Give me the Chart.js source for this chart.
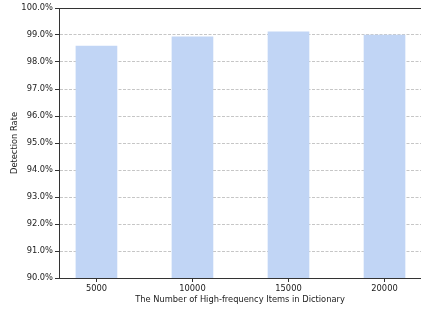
<!DOCTYPE html>
<html>
<head>
<meta charset="utf-8">
<script src="https://cdn.jsdelivr.net/npm/chart.js@4"></script>
<style>
  html, body { margin: 0; padding: 0; background: #fff; }
  #wrap { width: 421px; height: 312px; }
</style>
</head>
<body>
<div id="wrap"><canvas id="rateChart"></canvas></div>
<script>
// dictionary sizes and detection rates (%)
const categories = ['5000', '10000', '15000', '20000'];
const detectionRate = [98.59, 98.93, 99.12, 99.0];
const yTicks = [90, 91, 92, 93, 94, 95, 96, 97, 98, 99, 100];

const axisColor = '#333333';
const gridColor = '#c6c6c6';

Chart.defaults.font.family = 'DejaVu Sans';
Chart.defaults.font.size = 8.3;
Chart.defaults.color = '#222222';

const points = categories.map((c, i) => ({ x: i, y: detectionRate[i] }));

new Chart(document.getElementById('rateChart').getContext('2d'), {
    type: 'bar',
    data: {
        datasets: [{
            data: points,
            backgroundColor: '#c1d5f5',
            borderWidth: 0,
            barThickness: 41,
        }]
    },
    options: {
        responsive: true,
        maintainAspectRatio: false,
        animation: false,
        layout: { padding: { top: 8, right: 0, bottom: 0, left: 0 } },
        plugins: {
            legend: { display: false },
            tooltip: { enabled: false },
        },
        scales: {
            x: {
                type: 'linear',
                offset: false,
                min: -0.39,
                max: 3.38,
                afterBuildTicks: axis => {
                    axis.ticks = categories.map((c, i) => ({ value: i }));
                },
                afterFit: axis => { axis.height = 34; },
                ticks: {
                    callback: v => categories[v],
                    padding: 2,
                    maxRotation: 0,
                    autoSkip: false,
                },
                grid: {
                    offset: false,
                    drawOnChartArea: false,
                    drawTicks: true,
                    tickLength: 4,
                    tickColor: axisColor,
                },
                border: { display: true, color: axisColor, width: 1 },
                title: {
                    display: true,
                    text: 'The Number of High-frequency Items in Dictionary',
                    padding: { top: 0, bottom: 7 },
                },
            },
            y: {
                min: 90,
                max: 100,
                afterBuildTicks: axis => {
                    axis.ticks = yTicks.map(v => ({ value: v }));
                },
                afterFit: axis => { axis.width = 59; },
                ticks: {
                    callback: v => v.toFixed(1) + '%',
                    padding: 2,
                },
                grid: {
                    color: ctx => (ctx.tick && ctx.tick.value === 100) ? axisColor : gridColor,
                    tickLength: 4,
                    tickColor: axisColor,
                },
                border: {
                    display: true,
                    color: axisColor,
                    width: 1,
                    dash: ctx => (ctx.tick && ctx.tick.value === 100) ? [] : [3, 1.5],
                },
                title: {
                    display: true,
                    text: 'Detection Rate',
                    padding: { top: 10, bottom: 4 },
                },
            }
        }
    }
});
</script>
</body>
</html>
